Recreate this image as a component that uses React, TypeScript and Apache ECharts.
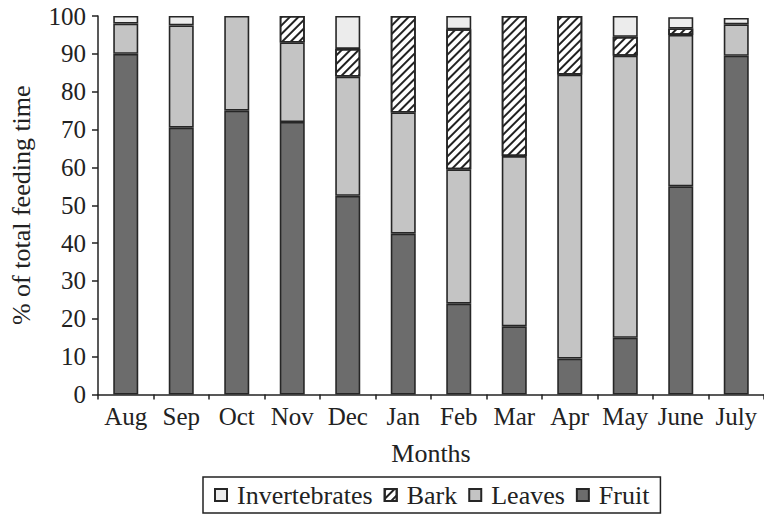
import React, { useEffect, useRef } from "react";
import * as echarts from "echarts";

const months = ["Aug", "Sep", "Oct", "Nov", "Dec", "Jan", "Feb", "Mar", "Apr", "May", "June", "July"];
const fruit = [90, 70.5, 75, 72, 52.5, 42.5, 24, 18, 9.5, 15, 55, 89.5];
const leaves = [8, 27, 25, 21, 31.5, 32, 35.5, 45, 75, 74.5, 40, 8.3];
const bark = [0, 0, 0, 7, 7.3, 25.5, 37, 37, 15.5, 5, 1.7, 0];
const invertebrates = [2, 2.5, 0, 0, 8.7, 0, 3.5, 0, 0, 5.5, 3, 1.7];
const legendOrder = ["Invertebrates", "Bark", "Leaves", "Fruit"];

const FONT = "Liberation Serif";
const EDGE = "#262626";

const clean = (arr: number[]) => arr.map((v) => (v === 0 ? "-" : v));

export default function App() {
  const ref = useRef<HTMLDivElement>(null);
  useEffect(() => {
    const chart = echarts.init(ref.current!, null, { renderer: "svg" });
    const base = {
      type: "bar",
      stack: "total",
      barWidth: 25,
      emphasis: { disabled: true },
    };
    chart.setOption({
      animation: false,
      textStyle: { fontFamily: FONT },
      grid: { left: 94, top: 16, width: 675, height: 378.5, containLabel: false },
      xAxis: {
        type: "category",
        data: months,
        name: "Months",
        nameLocation: "middle",
        nameGap: 46,
        nameTextStyle: { fontFamily: FONT, fontSize: 26, color: "#222" },
        axisLine: { lineStyle: { color: "#222", width: 1.5 } },
        axisTick: { show: true, length: 5, lineStyle: { color: "#222", width: 1.5 } },
        axisLabel: { interval: 0, fontFamily: FONT, fontSize: 25, color: "#222", margin: 9 },
      },
      yAxis: {
        type: "value",
        min: 0,
        max: 100,
        interval: 10,
        name: "% of total feeding time",
        nameLocation: "middle",
        nameGap: 64,
        nameTextStyle: { fontFamily: FONT, fontSize: 26, color: "#222" },
        splitLine: { show: false },
        axisLine: { show: true, lineStyle: { color: "#222", width: 1.5 } },
        axisTick: { show: true, length: 6, lineStyle: { color: "#222", width: 1.5 } },
        axisLabel: { fontFamily: FONT, fontSize: 25, color: "#222", margin: 12 },
      },
      legend: {
        data: legendOrder,
        left: 203,
        top: 477,
        icon: "rect",
        itemWidth: 12,
        itemHeight: 12,
        itemGap: 11,
        padding: [5, 11, 5, 11],
        borderColor: "#222",
        borderWidth: 1.5,
        textStyle: { fontFamily: FONT, fontSize: 26, color: "#222", padding: [0, 0, 0, 5] },
        selectedMode: false,
      },
      series: [
        {
          ...base,
          name: "Fruit",
          data: clean(fruit),
          itemStyle: { color: "#6c6c6c", borderColor: EDGE, borderWidth: 1.6 },
        },
        {
          ...base,
          name: "Leaves",
          data: clean(leaves),
          itemStyle: { color: "#c4c4c4", borderColor: EDGE, borderWidth: 1.6 },
        },
        {
          ...base,
          name: "Bark",
          data: clean(bark),
          itemStyle: {
            color: "#ffffff",
            borderColor: EDGE,
            borderWidth: 1.6,
            decal: {
              symbol: "rect",
              symbolSize: 1,
              dashArrayX: [1, 0],
              dashArrayY: [2, 4],
              rotation: -Math.PI / 4,
              color: "#222",
            },
          },
        },
        {
          ...base,
          name: "Invertebrates",
          data: clean(invertebrates),
          itemStyle: { color: "#ececec", borderColor: EDGE, borderWidth: 1.6 },
        },
      ],
    });
    return () => chart.dispose();
  }, []);
  return (
    <div
      ref={ref}
      style={{ position: "fixed", left: 0, top: 0, width: 764, height: 516, background: "#fff" }}
    />
  );
}
